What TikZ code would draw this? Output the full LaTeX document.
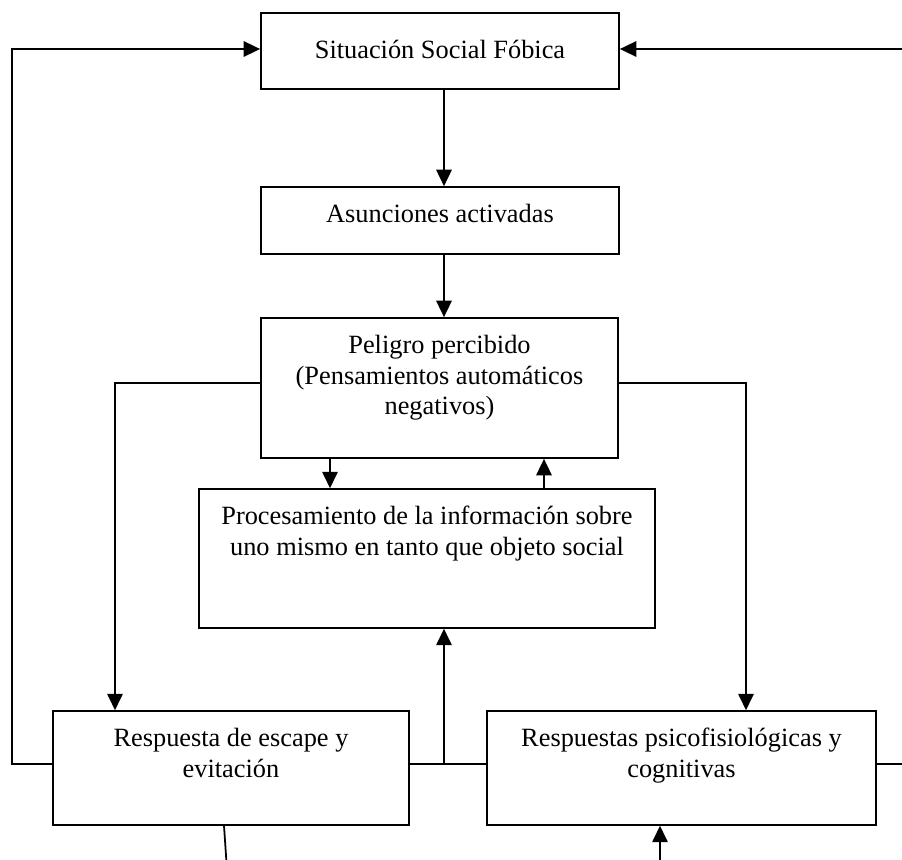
\documentclass[tikz,border=0pt]{standalone}
\usepackage{fontspec}
\setmainfont{Liberation Serif}
\usepackage{tikz}
\usetikzlibrary{arrows.meta, positioning}
\newcommand{\boxtext}[4][16.3pt]{\parbox[c][#3][t]{#2}{\centering\rule{0pt}{#1}#4}}
\tikzset{
    box/.style={rectangle, draw, line width=0.8pt, inner sep=0pt, font=\fontsize{12}{13.9}\selectfont},
    flow/.style={-{Triangle[length=7.5pt, width=7pt]}, line width=0.9pt},
    link/.style={line width=0.8pt}
}
\begin{document}
\begin{tikzpicture}[x=0.016cm, y=-0.016cm]
    \useasboundingbox (0,0) rectangle (902,860);

    % Chain down the middle
    \node[box] (sit) at (440,51) {\boxtext[21pt]{5.73cm}{1.22cm}{Situación Social Fóbica}};
    \node[box] (asun) at (440,220.5) {\boxtext{5.73cm}{1.07cm}{Asunciones activadas}};
    \node[box] (peli) at (439.5,388) {\boxtext{5.71cm}{2.24cm}{Peligro percibido\\ (Pensamientos automáticos\\ negativos)}};
    \node[box] (proc) at (427,558.5) {\boxtext{7.30cm}{2.22cm}{Procesamiento de la información sobre\\ uno mismo en tanto que objeto social}};

    % Responses
    \node[box] (esc) at (231,768) {\boxtext{5.70cm}{1.82cm}{Respuesta de escape y\\ evitación}};
    \node[box] (resp) at (681.5,768) {\boxtext{6.22cm}{1.82cm}{Respuestas psicofisiológicas y\\ cognitivas}};

    % Free ends at the bottom edge
    \coordinate (escout) at (227,870);
    \coordinate (respin) at (660,870);

    % Main flow
    \draw[flow] (444,0 |- sit.south) -- (444,0 |- asun.north);
    \draw[flow] (444,0 |- asun.south) -- (444,0 |- peli.north);
    \draw[flow] (330,0 |- peli.south) -- (330,0 |- proc.north);
    \draw[flow] (544,0 |- proc.north) -- (544,0 |- peli.south);
    \draw[flow] (peli.west |- 0,383) -| (115,0 |- esc.north);
    \draw[flow] (peli.east |- 0,383) -| (746,0 |- resp.north);

    % Responses feed back
    \draw[link] (esc.east |- 0,764) -- (resp.west |- 0,764);
    \draw[flow] (444,764) -- (444,0 |- proc.south);
    \draw[flow] (esc.west |- 0,764) -- (12,764) |- (sit.west |- 0,49);
    \draw[flow] (resp.east |- 0,764) -- (908,764) |- (sit.east |- 0,49);

    % Bottom connections
    \draw[link] (224,0 |- esc.south) -- (escout);
    \draw[flow] (respin) -- (660,0 |- resp.south);
\end{tikzpicture}
\end{document}
